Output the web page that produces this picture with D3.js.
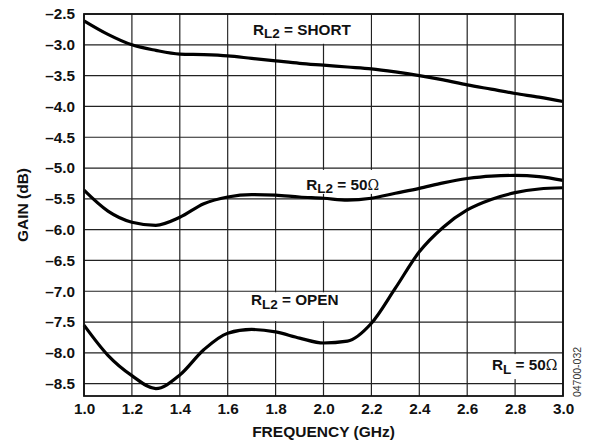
<!DOCTYPE html>
<html><head><meta charset="utf-8">
<script src="https://cdn.jsdelivr.net/npm/d3@7"></script>
<style>body{margin:0;background:#fff}svg{display:block}text{font-family:"Liberation Sans",Arial,sans-serif}</style>
</head><body><svg id="c" width="589" height="440"></svg>
<script>
const freq = [1.0,1.1,1.2,1.3,1.4,1.5,1.6,1.7,1.8,1.9,2.0,2.1,2.2,2.3,2.4,2.5,2.6,2.7,2.8,2.9,3.0];
const gainShort = [-2.61,-2.83,-3.0,-3.09,-3.15,-3.16,-3.18,-3.22,-3.26,-3.30,-3.33,-3.36,-3.39,-3.44,-3.50,-3.57,-3.65,-3.72,-3.79,-3.85,-3.92];
const gain50 = [-5.36,-5.70,-5.88,-5.93,-5.80,-5.58,-5.47,-5.43,-5.44,-5.47,-5.49,-5.52,-5.49,-5.41,-5.33,-5.24,-5.17,-5.13,-5.12,-5.14,-5.20];
const gainOpen = [-7.55,-8.04,-8.37,-8.58,-8.36,-7.95,-7.68,-7.62,-7.66,-7.76,-7.84,-7.81,-7.52,-6.95,-6.36,-5.96,-5.68,-5.51,-5.40,-5.34,-5.32];
const xTicks = [1.0,1.2,1.4,1.6,1.8,2.0,2.2,2.4,2.6,2.8,3.0];
const yTicks = [-2.5,-3.0,-3.5,-4.0,-4.5,-5.0,-5.5,-6.0,-6.5,-7.0,-7.5,-8.0,-8.5];

const svg = d3.select("#c");
const L=84,R=563,T=14,B=396;
const x = d3.scaleLinear().domain([1.0,3.0]).range([L,R]);
const y = d3.scaleLinear().domain([-8.7,-2.5]).range([B,T]);
const fmt = v => (v<0?"\u2013":"")+Math.abs(v).toFixed(1);
const FS = 15.3;

// grid
svg.append("g").selectAll("line").data(xTicks).join("line")
  .attr("x1",d=>x(d)).attr("x2",d=>x(d)).attr("y1",T).attr("y2",B)
  .attr("stroke","#222").attr("stroke-width",1.2);
svg.append("g").selectAll("line").data(yTicks).join("line")
  .attr("x1",L).attr("x2",R).attr("y1",d=>y(d)).attr("y2",d=>y(d))
  .attr("stroke","#222").attr("stroke-width",1.2);

// axes (labels only)
const gx = svg.append("g").attr("transform",`translate(0,${B})`)
  .call(d3.axisBottom(x).tickValues(xTicks).tickSize(0).tickPadding(7).tickFormat(d=>d.toFixed(1)));
const gy = svg.append("g").attr("transform",`translate(${L},0)`)
  .call(d3.axisLeft(y).tickValues(yTicks).tickSize(0).tickPadding(9).tickFormat(fmt));
[gx,gy].forEach(g=>{g.select(".domain").remove();
  g.selectAll("text").attr("font-family","Liberation Sans, Arial, sans-serif").attr("font-size",FS).attr("font-weight","bold").attr("fill","#111");});

// label masks and labels
function label(cx, cy, sub, rest, omega, box){
  svg.append("rect").attr("x",box[0]).attr("y",box[1]).attr("width",box[2]).attr("height",box[3]).attr("fill","#fff");
  const t = svg.append("text").attr("x",cx).attr("y",cy).attr("text-anchor","middle")
    .attr("font-size",FS).attr("font-weight","bold").attr("fill","#111");
  t.append("tspan").text("R");
  t.append("tspan").attr("dy",3.5).attr("font-size",13.5).text(sub);
  t.append("tspan").attr("dy",-3.5).text(rest);
  if (omega) t.append("tspan").attr("font-weight","normal").attr("font-family","DejaVu Serif, serif").attr("font-size",14).text("\u03A9");
}
label(x(1.91), y(-2.84), "L2", " = SHORT", false, [x(1.6)+1, T+1, x(2.2)-x(1.6)-2, y(-3.0)-T-2]);
label(x(2.08), y(-5.35), "L2", " = 50", true, [x(1.8)+2, y(-5.03), x(2.36)-x(1.8), 24]);
label(x(1.88), y(-7.23), "L2", " = OPEN", false, [x(1.7), y(-7.0)+1, x(2.1)-x(1.7), y(-7.5)-y(-7.0)-2]);
label(x(2.84), y(-8.28), "L", " = 50", true, [x(2.6)+2, y(-8.02), x(2.99)-x(2.6)-2, 25]);

// curves
const line = d3.line().x((d,i)=>x(freq[i])).y(d=>y(d)).curve(d3.curveMonotoneX);
[gainShort,gain50,gainOpen].forEach(s=>{
  svg.append("path").attr("d",line(s)).attr("fill","none").attr("stroke","#000").attr("stroke-width",3.2).attr("stroke-linejoin","round");
});

// border
svg.append("rect").attr("x",L).attr("y",T).attr("width",R-L).attr("height",B-T)
  .attr("fill","none").attr("stroke","#111").attr("stroke-width",1.8);

// axis titles
svg.append("text").attr("x",(L+R)/2).attr("y",437).attr("text-anchor","middle")
  .attr("font-size",15.5).attr("font-weight","bold").attr("fill","#111").text("FREQUENCY (GHz)");
svg.append("text").attr("transform",`translate(28,${(T+B)/2}) rotate(-90)`).attr("text-anchor","middle")
  .attr("font-size",15.5).attr("font-weight","bold").attr("fill","#111").text("GAIN (dB)");
svg.append("text").attr("transform",`translate(581,372) rotate(-90)`).attr("text-anchor","middle")
  .attr("font-size",10.5).attr("fill","#333").text("04700-032");
</script></body></html>
